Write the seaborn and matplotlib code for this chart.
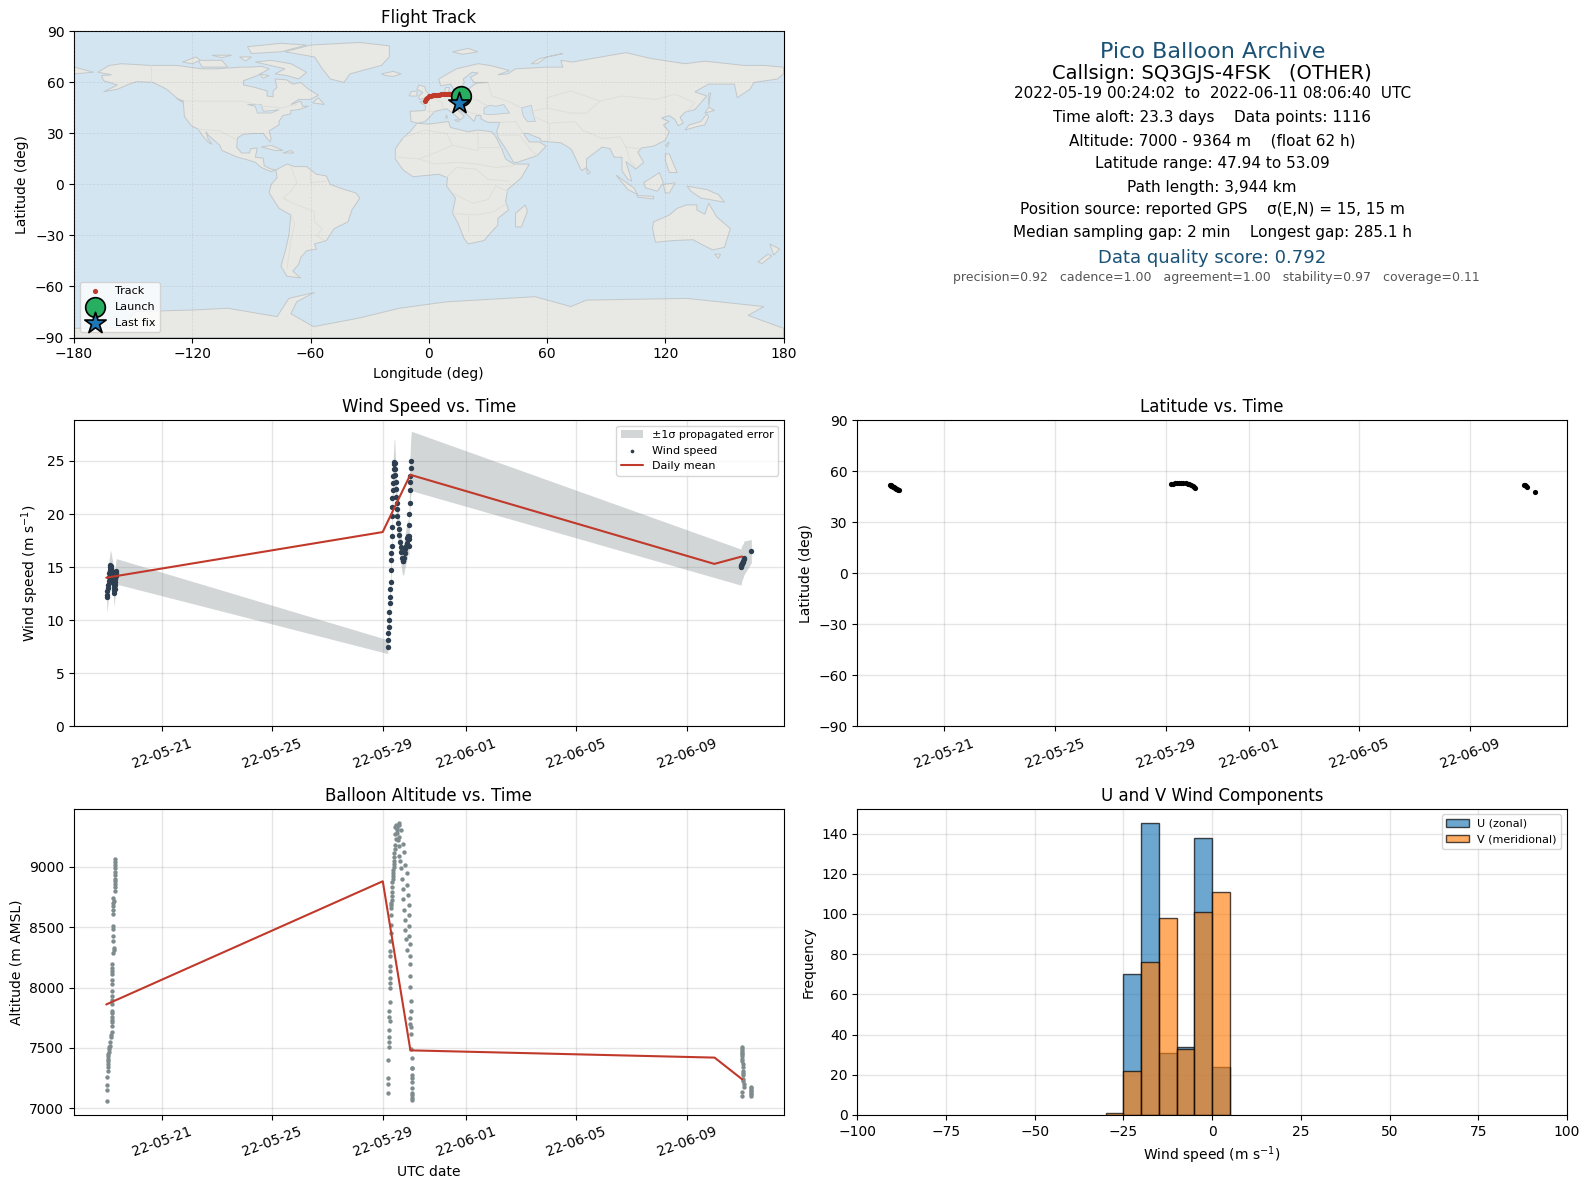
"""
Flight summary panel for one pico balloon (track, wind, latitude, altitude, U/V).
"""

import numpy as np
import pandas as pd
import seaborn as sns
import matplotlib.pyplot as plt
import matplotlib.dates as mdates

RED = '#c0392b'
NAVY = '#2c3e50'
GREY = '#7f8c8d'
TITLE_BLUE = '#1a5276'

# days since 2022-05-19 00:00 UTC
wind_days = [0.017, 0.03, 0.045, 0.06, 0.07, 0.085, 0.10, 0.11, 0.125, 0.14, 0.15, 0.165, 0.18, 0.20,
             0.22, 0.24, 0.26, 0.27, 0.28, 0.29, 0.30, 0.31, 0.32, 0.33, 0.34, 0.35, 0.36,
             10.18, 10.19, 10.205, 10.217, 10.23, 10.24, 10.254, 10.266, 10.278, 10.29, 10.30, 10.314,
             10.32, 10.326, 10.332, 10.338, 10.344, 10.35, 10.356, 10.362, 10.374, 10.386, 10.40, 10.41, 10.423,
             10.435, 10.447, 10.459, 10.471, 10.483, 10.495, 10.507, 10.519, 10.531, 10.556, 10.58, 10.604,
             10.628, 10.652, 10.676, 10.70, 10.725, 10.749, 10.773, 10.797, 10.821, 10.845, 10.87, 10.894,
             10.918, 10.942, 10.948, 10.954, 10.96, 10.966, 10.972, 10.978, 10.99, 11.00, 11.014, 11.04,
             22.96, 22.97, 22.98, 22.99, 23.0, 23.02, 23.04, 23.06, 23.07, 23.34]
wind_speed = [12.2, 12.4, 12.7, 13.0, 13.3, 13.7, 14.1, 14.4, 14.7, 15.0, 15.2, 15.1, 14.9, 14.6,
              14.3, 13.9, 13.5, 13.1, 12.8, 12.6, 12.9, 13.3, 13.6, 13.9, 14.2, 14.4, 14.6,
              7.5, 8.1, 8.8, 9.4, 10.0, 10.8, 11.6, 12.2, 12.9, 13.6, 14.7, 15.7,
              16.3, 17.0, 17.9, 18.8, 19.8, 20.7, 21.5, 22.3, 22.9, 23.6, 24.2, 24.7, 24.9,
              24.8, 24.2, 23.7, 23.0, 22.4, 21.6, 21.0, 20.5, 19.8, 19.2, 18.6, 18.0,
              17.4, 16.9, 16.4, 15.9, 15.6, 15.6, 15.9, 16.3, 16.7, 17.0, 17.3, 17.7,
              17.9, 17.6, 17.0, 17.9, 19.0, 20.0, 21.0, 22.3, 23.0, 23.6, 24.3, 25.0,
              15.0, 15.1, 15.2, 15.3, 15.4, 15.5, 15.6, 15.75, 15.85, 16.5]
wind_sigma = [1.5, 1.5, 1.5, 1.5, 1.5, 1.5, 1.5, 1.5, 1.4, 1.4, 1.4, 1.4, 1.4, 1.4,
              1.4, 1.4, 1.3, 1.3, 1.3, 1.3, 1.3, 1.3, 1.3, 1.2, 1.2, 1.2, 1.2,
              0.65, 0.7, 0.75, 0.8, 0.8, 0.85, 0.9, 0.9, 1.0, 1.0, 1.1, 1.2,
              1.2, 1.3, 1.4, 1.4, 1.5, 1.6, 1.7, 1.8, 1.8, 1.9, 2.0, 2.1, 2.2,
              2.2, 2.1, 2.0, 2.0, 1.9, 1.8, 1.8, 1.7, 1.6, 1.6, 1.5, 1.5,
              1.4, 1.4, 1.4, 1.4, 1.3, 1.4, 1.5, 1.5, 1.6, 1.6, 1.7, 1.7,
              1.6, 1.6, 1.5, 1.7, 1.8, 1.9, 2.0, 2.2, 2.4, 2.5, 2.7, 2.8,
              1.7, 1.7, 1.7, 1.7, 1.65, 1.6, 1.6, 1.6, 1.6, 1.1]

mean_days = [0, 10, 11, 22, 23]
wind_daily = [14.0, 18.3, 23.7, 15.3, 16.0]
alt_daily = [7860, 8880, 7480, 7420, 7240]

alt_days = [0.015, 0.015, 0.02, 0.015, 0.05, 0.05, 0.06, 0.08, 0.11, 0.16, 0.2, 0.19, 0.19, 0.19, 0.19, 0.21,
            0.22, 0.22, 0.22, 0.25, 0.28, 0.26, 0.26, 0.26, 0.26, 0.26, 0.26, 0.3, 0.3, 0.3, 0.3, 0.3,
            0.05, 0.055, 0.07, 0.09, 0.1, 0.12, 0.14, 0.17, 0.19, 0.19, 0.19, 0.2, 0.21, 0.22, 0.22, 0.22,
            0.27, 0.26, 0.26, 0.26, 0.27, 0.3, 0.3, 0.3, 0.3, 0.3, 0.3,
            10.19, 10.19, 10.19, 10.19, 10.22, 10.22, 10.22, 10.22, 10.25, 10.22, 10.22, 10.27, 10.26, 10.26,
            10.26, 10.26, 10.26, 10.26, 10.26, 10.27, 10.28, 10.28, 10.29, 10.29, 10.32, 10.34, 10.34, 10.37,
            10.39, 10.41, 10.45, 10.49, 10.51, 10.58, 10.6, 10.66, 10.6, 10.72, 10.76, 10.81, 10.87, 10.89,
            10.91, 10.95, 10.95, 10.95, 10.95, 10.98, 11.0, 11.0, 11.0, 11.0, 11.03, 11.03, 11.03, 11.03,
            11.03, 11.05, 11.05, 11.05, 11.05, 11.05, 11.05, 11.04,
            10.29, 10.3, 10.33, 10.35, 10.36, 10.37, 10.38, 10.39, 10.40, 10.42, 10.43, 10.44, 10.46, 10.47,
            10.49, 10.5, 10.53, 10.55, 10.57, 10.6, 10.64, 10.66, 10.68, 10.72, 10.74, 10.76, 10.79, 10.8,
            10.85, 10.88, 11.0, 11.0, 11.05, 11.05, 11.05, 11.05,
            22.98, 22.98, 22.98, 23.0, 23.02, 23.03, 23.03, 23.03, 23.06, 23.06, 23.0, 22.98,
            23.0, 22.99, 22.99, 23.01, 23.02, 23.03, 23.03,
            23.32, 23.32, 23.33, 23.33, 23.33, 23.33, 23.32]
alt_m = [7060, 7153, 7197, 7263, 7313, 7368, 7409, 7450, 7505, 7588, 7629, 7712, 7753, 7808, 7863, 7932,
         8028, 8110, 8193, 8290, 8331, 8386, 8482, 8510, 8606, 8675, 8744, 8799, 8854, 8936, 9018, 9068,
         7340, 7390, 7430, 7470, 7490, 7520, 7550, 7610, 7680, 7730, 7790, 7900, 7970, 8060, 8140, 8160,
         8310, 8430, 8640, 8700, 8720, 8830, 8880, 8900, 8960, 8990, 9040,
         7125, 7199, 7248, 7399, 7508, 7549, 7590, 7645, 7727, 7754, 7809, 7877, 8000, 8041,
         8083, 8137, 8178, 8260, 8301, 8383, 8452, 8520, 8602, 8657, 8725, 8793, 8875, 8973,
         9027, 9082, 9150, 9233, 9301, 9342, 9364, 9301, 9246, 9192, 9123, 9014, 8945, 8850,
         8768, 8686, 8604, 8508, 8426, 8358, 8262, 8194, 8098, 8002, 7892, 7809, 7673, 7618,
         7495, 7413, 7331, 7221, 7166, 7111, 7084, 7067,
         8680, 8700, 8760, 8830, 8900, 8920, 8950, 9000, 9050, 9110, 9180, 9270, 9330, 9350,
         9330, 9320, 9280, 9220, 9170, 9090, 9050, 8990, 8900, 8820, 8730, 8640, 8560, 8480,
         8400, 8310, 7750, 7700, 7330, 7280, 7250, 7130,
         7505, 7478, 7450, 7409, 7368, 7313, 7272, 7244, 7203, 7175, 7134, 7098,
         7490, 7460, 7430, 7390, 7340, 7290, 7230,
         7175, 7150, 7125, 7106, 7170, 7140, 7120]

lat_days = [0.02, 0.05, 0.08, 0.11, 0.14, 0.17, 0.2, 0.23, 0.26, 0.29, 0.32, 0.36,
            10.18, 10.25, 10.32, 10.4, 10.48, 10.56, 10.64, 10.72, 10.8, 10.86, 10.92, 10.97, 11.02, 11.06,
            22.96, 22.99, 23.02, 23.07, 23.34]
lat_deg = [52.0, 51.8, 51.5, 51.2, 50.9, 50.6, 50.2, 49.9, 49.6, 49.3, 49.1, 48.9,
           52.5, 52.7, 52.8, 52.9, 53.0, 53.09, 53.0, 52.9, 52.7, 52.4, 52.0, 51.5, 50.8, 50.1,
           51.9, 51.6, 51.2, 50.6, 47.94]

track_lon = [-1.8, -1.5, -1.0, 0, 1, 2, 3, 4, 5, 6, 7, 8, 9, 10, 11, 12, 13, 14, 15]
track_lat = [48.9, 50.0, 51.0, 51.8, 52.3, 52.5, 52.6, 52.7, 52.8, 52.9, 53.0, 53.0, 53.09, 53.0, 53.0, 52.9, 52.7, 52.5, 52.2]
launch_lon, launch_lat = [16.4], [52.0]
last_lon, last_lat = [15.3], [47.94]

bin_edges = [-30, -25, -20, -15, -10, -5, 0, 5]
u_counts = [0, 70, 145, 31, 34, 138, 24]
v_counts = [1, 22, 76, 98, 33, 101, 111]

info_lines = [
    ('Pico Balloon Archive', 16, TITLE_BLUE, 0.5, 0.934),
    ('Callsign: SQ3GJS-4FSK   (OTHER)', 14, 'black', 0.5, 0.862),
    ('2022-05-19 00:24:02  to  2022-06-11 08:06:40  UTC', 11, 'black', 0.5, 0.796),
    ('Time aloft: 23.3 days    Data points: 1116', 11, 'black', 0.5, 0.719),
    ('Altitude: 7000 - 9364 m    (float 62 h)', 11, 'black', 0.5, 0.643),
    ('Latitude range: 47.94 to 53.09', 11, 'black', 0.5, 0.567),
    ('Path length: 3,944 km', 11, 'black', 0.5, 0.490),
    ('Position source: reported GPS    σ(E,N) = 15, 15 m', 11, 'black', 0.5, 0.418),
    ('Median sampling gap: 2 min    Longest gap: 285.1 h', 11, 'black', 0.5, 0.342),
    ('Data quality score: 0.792', 13, TITLE_BLUE, 0.5, 0.260),
    ('precision=0.92   cadence=1.00   agreement=1.00   stability=0.97   coverage=0.11', 9, '#555555', 0.506, 0.195),
]

# rough coastlines, lon/lat
north_america = [(-168, 66), (-162, 70), (-156, 71), (-141, 70), (-128, 70), (-115, 68), (-108, 68), (-95, 69),
                 (-90, 69), (-85, 69.5), (-81, 68), (-87, 64), (-94, 61), (-94, 58.5), (-88, 57), (-82, 55),
                 (-82, 52), (-79, 51.5), (-79, 55), (-77, 57), (-78, 62), (-72, 61.5), (-69, 59), (-65, 60),
                 (-61, 56), (-56, 52.5), (-60, 50), (-66, 50), (-70, 47), (-65, 49), (-64, 46), (-61, 46),
                 (-66, 44), (-70, 43.5), (-70, 41.5), (-74, 40.5), (-76, 37), (-76, 35), (-81, 31.5), (-80, 27),
                 (-80.5, 25), (-82, 27), (-84, 30), (-89, 30), (-94, 29.5), (-97, 27.5), (-97.5, 22), (-95, 18.5),
                 (-91, 18.5), (-90.5, 21), (-87, 21.5), (-88, 16), (-84, 15.5), (-83.5, 11), (-80, 9), (-77.5, 8.5),
                 (-80, 7.5), (-85, 10), (-88, 13), (-92, 14.5), (-97, 16), (-105, 20), (-106, 23), (-112, 29),
                 (-113, 31), (-112, 27), (-110, 23.5), (-112, 25), (-115, 29), (-117, 32.5), (-120.5, 34.5),
                 (-124, 40), (-124.5, 48), (-128, 51), (-133, 56), (-140, 60), (-148, 60.5), (-152, 59), (-158, 56),
                 (-165, 54.5), (-158, 58.5), (-165, 61), (-166, 64), (-161, 64.5)]
south_america = [(-77.5, 8.5), (-72, 12), (-68, 10.5), (-62, 10.5), (-57, 6), (-52, 5), (-50, 0), (-44, -2.5),
                 (-37, -5), (-35, -8), (-39, -15), (-41, -22), (-48, -26), (-52, -33), (-58, -35), (-57, -38),
                 (-62, -39), (-65, -43), (-66, -47), (-69, -51), (-65, -55), (-72, -54), (-75, -48), (-73, -40),
                 (-71, -30), (-70, -18), (-76, -14), (-81, -5), (-80, 0), (-77, 4)]
africa = [(-17, 15), (-17, 21), (-13, 27.5), (-9.5, 31), (-6, 36), (0, 35.5), (10, 37), (11, 33.5), (20, 31),
          (25, 32), (32, 31), (34, 28), (37, 21), (39, 15), (43, 12), (51, 12), (47, 4), (40, -3), (39, -10),
          (40.5, -15), (35, -20), (35, -24), (32.5, -27), (28, -33), (20, -35), (18, -32), (14.5, -22), (12, -17),
          (13.5, -8), (9, -1), (9.5, 4), (5, 6), (-4, 5), (-8, 4.5), (-13, 8.5)]
eurasia = [(-9, 37), (-9.5, 43), (-2, 43.5), (-1.5, 46), (-4.5, 48.5), (2, 51), (8, 54), (8.5, 57), (10.5, 57),
           (10, 54.5), (14, 54), (19, 54.5), (21, 57), (24, 59.5), (30, 60), (23, 60), (21, 63), (25, 65.5),
           (22, 66), (17.5, 62), (18, 60), (16, 56), (13, 55.5), (11, 59), (6, 58), (5, 62), (14, 68), (25, 71),
           (31, 70), (41, 67), (35, 64.5), (40, 65), (44, 68), (60, 69), (68, 69), (67, 73), (73, 72), (80, 73.5),
           (100, 77.5), (113, 74), (130, 71), (140, 72.5), (160, 70), (170, 70), (180, 69), (180, 65), (177, 62),
           (165, 60), (163, 56), (156.5, 51), (155, 59), (142, 59), (135, 54.5), (141, 52), (135, 44), (130, 42.5),
           (127.5, 39.5), (129, 36), (126.5, 34.5), (125, 38), (122, 40.5), (118, 39), (122, 37), (119, 35),
           (122, 31), (120, 26), (114, 22.5), (108, 21.5), (106, 19), (109, 13), (105, 9), (100, 13.5), (103, 2),
           (101, 3), (98, 8), (98, 16), (94, 16), (92, 21), (88, 22), (80, 15), (80, 10), (77.5, 8), (73, 19),
           (72, 21), (67, 24.5), (57, 25.5), (56.5, 27), (50, 30), (48, 30), (51, 25), (56, 25), (59.5, 22.5),
           (55, 17), (45, 13), (43, 13), (39, 21), (35, 28), (34.5, 31.5), (36, 36.5), (30, 36.5), (26.5, 38.5),
           (26.5, 40.5), (24, 40.5), (23, 37), (19.5, 41), (13, 45.5), (18, 40), (16, 38), (12, 42), (9, 44.5),
           (3, 43), (0, 39), (-2, 37), (-5.5, 36)]
australia = [(114, -22), (122, -18), (126, -14), (131, -12), (136, -12), (136, -15), (140, -17.5), (142, -11),
             (146, -19), (153, -26), (150, -37), (144, -38.5), (138, -35), (134, -32.5), (124, -33), (115, -34),
             (113.5, -26)]
greenland = [(-73, 78), (-60, 82), (-35, 83.5), (-20, 81.5), (-20, 75), (-24, 70), (-40, 65), (-43, 60), (-50, 62),
             (-54, 68), (-58, 75)]
antarctica = [(-180, -90), (-180, -84.6), (-156, -84.2), (-149, -74.8), (-119, -73.8), (-102, -72.8), (-77, -77.7),
              (-71, -67), (-58, -63.5), (-67, -69), (-70, -76), (-58.4, -83.6), (-36, -78.7), (-15, -72.8), (9, -69),
              (54, -66), (72, -71.8), (80, -68), (131, -67), (170, -71.8), (162, -77), (180, -84.6), (180, -90)]
islands = [
    [(-180, 69), (-170, 66), (-180, 65)],
    [(-80, 73), (-70, 71), (-62, 66), (-66, 62), (-72, 64), (-78, 65), (-73, 68), (-88, 72)],
    [(-117, 73), (-105, 73), (-102, 69), (-115, 69)],
    [(-90, 77), (-75, 78), (-62, 82), (-75, 83), (-92, 81)],
    [(-125, 72), (-118, 75), (-116, 73), (-120, 71)],
    [(-110, 76), (-100, 76), (-105, 74.5)],
    [(-96, 75), (-90, 75), (-93, 72.5)],
    [(-86, 65), (-81, 64), (-84, 62.5)],
    [(-128, 50.5), (-124, 49), (-125, 48.5)],
    [(-59, 48), (-56, 51), (-53, 47)],
    [(-85, 22), (-80, 23), (-74, 20), (-78, 20)],
    [(-74, 18.5), (-70, 20), (-68.5, 18.5)],
    [(-24, 65), (-18, 66.5), (-14, 65), (-18, 63.5), (-22, 64)],
    [(-5, 50), (1.5, 51.5), (-1.5, 55), (-2, 57.5), (-5, 58.5), (-6, 56), (-3, 54), (-5, 52)],
    [(-10, 52), (-6, 52), (-6, 55), (-9, 54.5)],
    [(130, 32), (136, 34), (140, 35), (142, 40), (141, 41.5), (138, 37), (132, 35)],
    [(140, 42), (145, 43.5), (142, 45.5)],
    [(142, 46), (143, 54), (142, 53)],
    [(120, 23), (122, 25), (121, 22)],
    [(120, 18), (122, 18), (126, 7), (122, 7), (120, 14)],
    [(109, 1), (117, 7), (119, 1), (116, -4), (110, -2)],
    [(95, 5.5), (104, -2), (106, -6), (101, -3)],
    [(105.5, -6.5), (114, -7), (114, -8.5), (106, -7.5)],
    [(119, 0), (125, 1), (122, -5), (120, -5)],
    [(131, -1), (141, -3), (147, -6), (150, -10.5), (143, -9), (138, -8), (133, -4)],
    [(145, -41), (148, -41), (147, -43.5)],
    [(173, -35), (178, -38), (175, -41.5)],
    [(172, -41), (174, -42), (169, -46.5), (167, -45.5)],
    [(49, -12), (50, -16), (47, -25), (44, -25), (44, -17)],
    [(80, 9.5), (82, 7), (80.5, 6)],
    [(12, 78), (20, 80), (25, 78), (17, 76.5)],
    [(52, 71), (56, 74), (68, 77), (60, 75), (55, 71)],
    [(9, 41), (9.5, 39), (8.5, 39)],
    [(13, 38), (15.5, 38), (15, 36.7)],
]
inland_seas = [
    [(28, 41.5), (28, 45), (31, 46.5), (34, 46), (38, 47), (41, 42), (36, 41.5), (31, 41)],
    [(47, 45), (52, 46.5), (53, 41), (54, 37), (50, 37), (48, 40)],
    [(-92, 47), (-85, 47), (-84, 43), (-79, 43.5), (-76, 44), (-80, 42), (-87, 42), (-88, 46)],
]
borders = [
    [(-123, 49), (-95, 49), (-83, 46), (-75, 45), (-67, 47)],
    [(-141, 70), (-141, 60)],
    [(-117, 32.5), (-106, 31.5), (-97, 26)],
    [(-70, 11), (-67, 1), (-70, -4), (-74, -8), (-69, -11), (-58, -16), (-58, -22), (-54, -26), (-57, -30), (-53, -33)],
    [(-70, -18), (-68, -23), (-70, -33), (-72, -50)],
    [(-60, 8), (-60, 1), (-52, 2)],
    [(-13, 27.5), (-2, 32), (9, 30), (12, 23), (25, 20), (25, 32)],
    [(25, 22), (37, 22)],
    [(-16, 16), (-5, 15), (4, 19), (12, 23)],
    [(-5, 15), (3, 12), (14, 13), (24, 12), (34, 10), (43, 11)],
    [(9, 4), (14, 10), (24, 9), (30, 3), (41, 2)],
    [(12, -5), (22, -11), (30, -9), (34, -1), (40, -4)],
    [(12, -17), (24, -18), (33, -16), (40, -11)],
    [(20, -28), (20, -18)],
    [(30, 60), (32, 52), (40, 49), (47, 45)],
    [(49, 42), (60, 45), (72, 42), (80, 42), (87, 49), (98, 52), (115, 50), (125, 53), (135, 48), (131, 43)],
    [(60, 45), (60, 51), (72, 55), (87, 49)],
    [(53, 40), (61, 36), (74, 37), (78, 32), (88, 27), (97, 28), (100, 22), (107, 21)],
    [(61, 36), (61, 25)],
    [(48, 30), (44, 37), (36, 36.5)],
    [(35, 29), (46, 29), (52, 20), (55, 17)],
    [(2, 51), (7, 48), (7, 44)],
    [(14, 54), (15, 51), (24, 50), (30, 46)],
    [(-2, 43.5), (3, 42.5)],
    [(11, 47), (22, 42), (26, 41)],
    [(100, 22), (102, 14), (105, 10)],
]

land_polygons = [north_america, south_america, africa, eurasia, australia, greenland, antarctica] + islands


def day_to_date(days):
    return pd.Timestamp('2022-05-19') + pd.to_timedelta(np.array(days), unit='D')


def date_axis(ax):
    ax.xaxis.set_major_locator(mdates.DayLocator(bymonthday=range(1, 32, 4)))
    ax.xaxis.set_major_formatter(mdates.DateFormatter('%y-%m-%d'))
    ax.tick_params(axis='x', labelrotation=20)
    ax.grid(True, color='grey', alpha=0.2, linewidth=1)
    ax.set_axisbelow(True)
    ax.set_xlabel('')


def plot_map(ax):
    ax.set_facecolor('#d4e5f2')
    for polygon in land_polygons:
        lon, lat = zip(*polygon)
        ax.fill(lon, lat, facecolor='#e8e8e4', edgecolor='#c2c8ca', linewidth=0.7, zorder=1)
    for polygon in inland_seas:
        lon, lat = zip(*polygon)
        ax.fill(lon, lat, facecolor='#d4e5f2', edgecolor='#c2c8ca', linewidth=0.6, zorder=1)
    for line in borders:
        lon, lat = zip(*line)
        ax.plot(lon, lat, color='#dcdeda', linewidth=0.6, zorder=1)

    sns.scatterplot(x=track_lon, y=track_lat, ax=ax, s=14, color=RED, linewidth=0, label='Track', zorder=3)
    sns.scatterplot(x=launch_lon, y=launch_lat, ax=ax, s=200, color='#27ae60', edgecolor='black',
                    linewidth=1.2, label='Launch', zorder=4)
    sns.scatterplot(x=last_lon, y=last_lat, ax=ax, s=260, marker='*', color='#1f77b4', edgecolor='black',
                    linewidth=1.2, label='Last fix', zorder=5)
    ax.set_xlim(-180, 180)
    ax.set_ylim(-90, 90)
    ax.set_xticks(range(-180, 181, 60))
    ax.set_yticks(range(-90, 91, 30))
    ax.grid(True, color='grey', alpha=0.2, linewidth=0.5, linestyle='--', zorder=2)
    ax.set_axisbelow(False)
    ax.set_xlabel('Longitude (deg)')
    ax.set_ylabel('Latitude (deg)')
    ax.set_title('Flight Track')
    ax.legend(loc='lower left', fontsize=8)


def plot_info(ax):
    ax.axis('off')
    for line, size, color, x, y in info_lines:
        ax.text(x, y, line, fontsize=size, color=color, ha='center', va='center', transform=ax.transAxes)


def plot_wind(ax):
    times = day_to_date(wind_days)
    speed = np.array(wind_speed)
    sigma = np.array(wind_sigma)
    ax.fill_between(times, speed - sigma, speed + sigma, color=GREY, alpha=0.35, linewidth=0,
                    label='±1σ propagated error')
    sns.scatterplot(x=times, y=speed, ax=ax, s=15, color=NAVY, linewidth=0, label='Wind speed')
    sns.lineplot(x=day_to_date(mean_days), y=wind_daily, ax=ax, color=RED, linewidth=1.5, label='Daily mean')
    ax.set_ylim(bottom=0)
    date_axis(ax)
    ax.set_ylabel('Wind speed (m s$^{-1}$)')
    ax.set_title('Wind Speed vs. Time')
    legend = ax.legend(loc='upper right', fontsize=8)
    legend.legend_handles[1].set_sizes([7])


def plot_latitude(ax):
    sns.scatterplot(x=day_to_date(lat_days), y=lat_deg, ax=ax, s=14, color='black', linewidth=0)
    ax.set_xlim(day_to_date([-1.147, 24.51])[[0, 1]])
    ax.set_ylim(-90, 90)
    ax.set_yticks(range(-90, 91, 30))
    date_axis(ax)
    ax.set_ylabel('Latitude (deg)')
    ax.set_title('Latitude vs. Time')


def plot_altitude(ax):
    sns.scatterplot(x=day_to_date(alt_days), y=alt_m, ax=ax, s=10, color=GREY, linewidth=0)
    sns.lineplot(x=day_to_date(mean_days), y=alt_daily, ax=ax, color=RED, linewidth=1.5)
    date_axis(ax)
    ax.set_xlabel('UTC date')
    ax.set_ylabel('Altitude (m AMSL)')
    ax.set_title('Balloon Altitude vs. Time')


def plot_components(ax):
    centers = (np.array(bin_edges[:-1]) + np.array(bin_edges[1:])) / 2
    sns.histplot(x=centers, weights=u_counts, bins=bin_edges, ax=ax, color='#1f77b4', alpha=0.65,
                 edgecolor=(0, 0, 0, 0.7), linewidth=1, label='U (zonal)')
    sns.histplot(x=centers, weights=v_counts, bins=bin_edges, ax=ax, color='#ff7f0e', alpha=0.65,
                 edgecolor=(0, 0, 0, 0.7), linewidth=1, label='V (meridional)')
    ax.set_xlim(-100, 100)
    ax.set_xticks(range(-100, 101, 25))
    ax.grid(True, color='grey', alpha=0.2, linewidth=1)
    ax.set_axisbelow(True)
    ax.set_xlabel('Wind speed (m s$^{-1}$)')
    ax.set_ylabel('Frequency')
    ax.set_title('U and V Wind Components')
    ax.legend(loc='upper right', fontsize=8)


def main():
    sns.set_style('ticks', rc={'axes.edgecolor': 'black', 'text.color': 'black', 'axes.labelcolor': 'black',
                               'xtick.color': 'black', 'ytick.color': 'black'})
    plt.rcParams['font.family'] = 'DejaVu Sans'

    fig, axes = plt.subplots(3, 2, figsize=(15.89, 11.89), dpi=100)
    fig.subplots_adjust(left=74 / 1589, right=1567 / 1589, top=1 - 31.4 / 1189, bottom=1 - 1115 / 1189,
                        wspace=0.104, hspace=0.27)
    plot_map(axes[0, 0])
    plot_info(axes[0, 1])
    plot_wind(axes[1, 0])
    plot_latitude(axes[1, 1])
    plot_altitude(axes[2, 0])
    plot_components(axes[2, 1])
    fig.savefig('out.png', dpi=100)
    plt.close(fig)


if __name__ == '__main__':
    main()
